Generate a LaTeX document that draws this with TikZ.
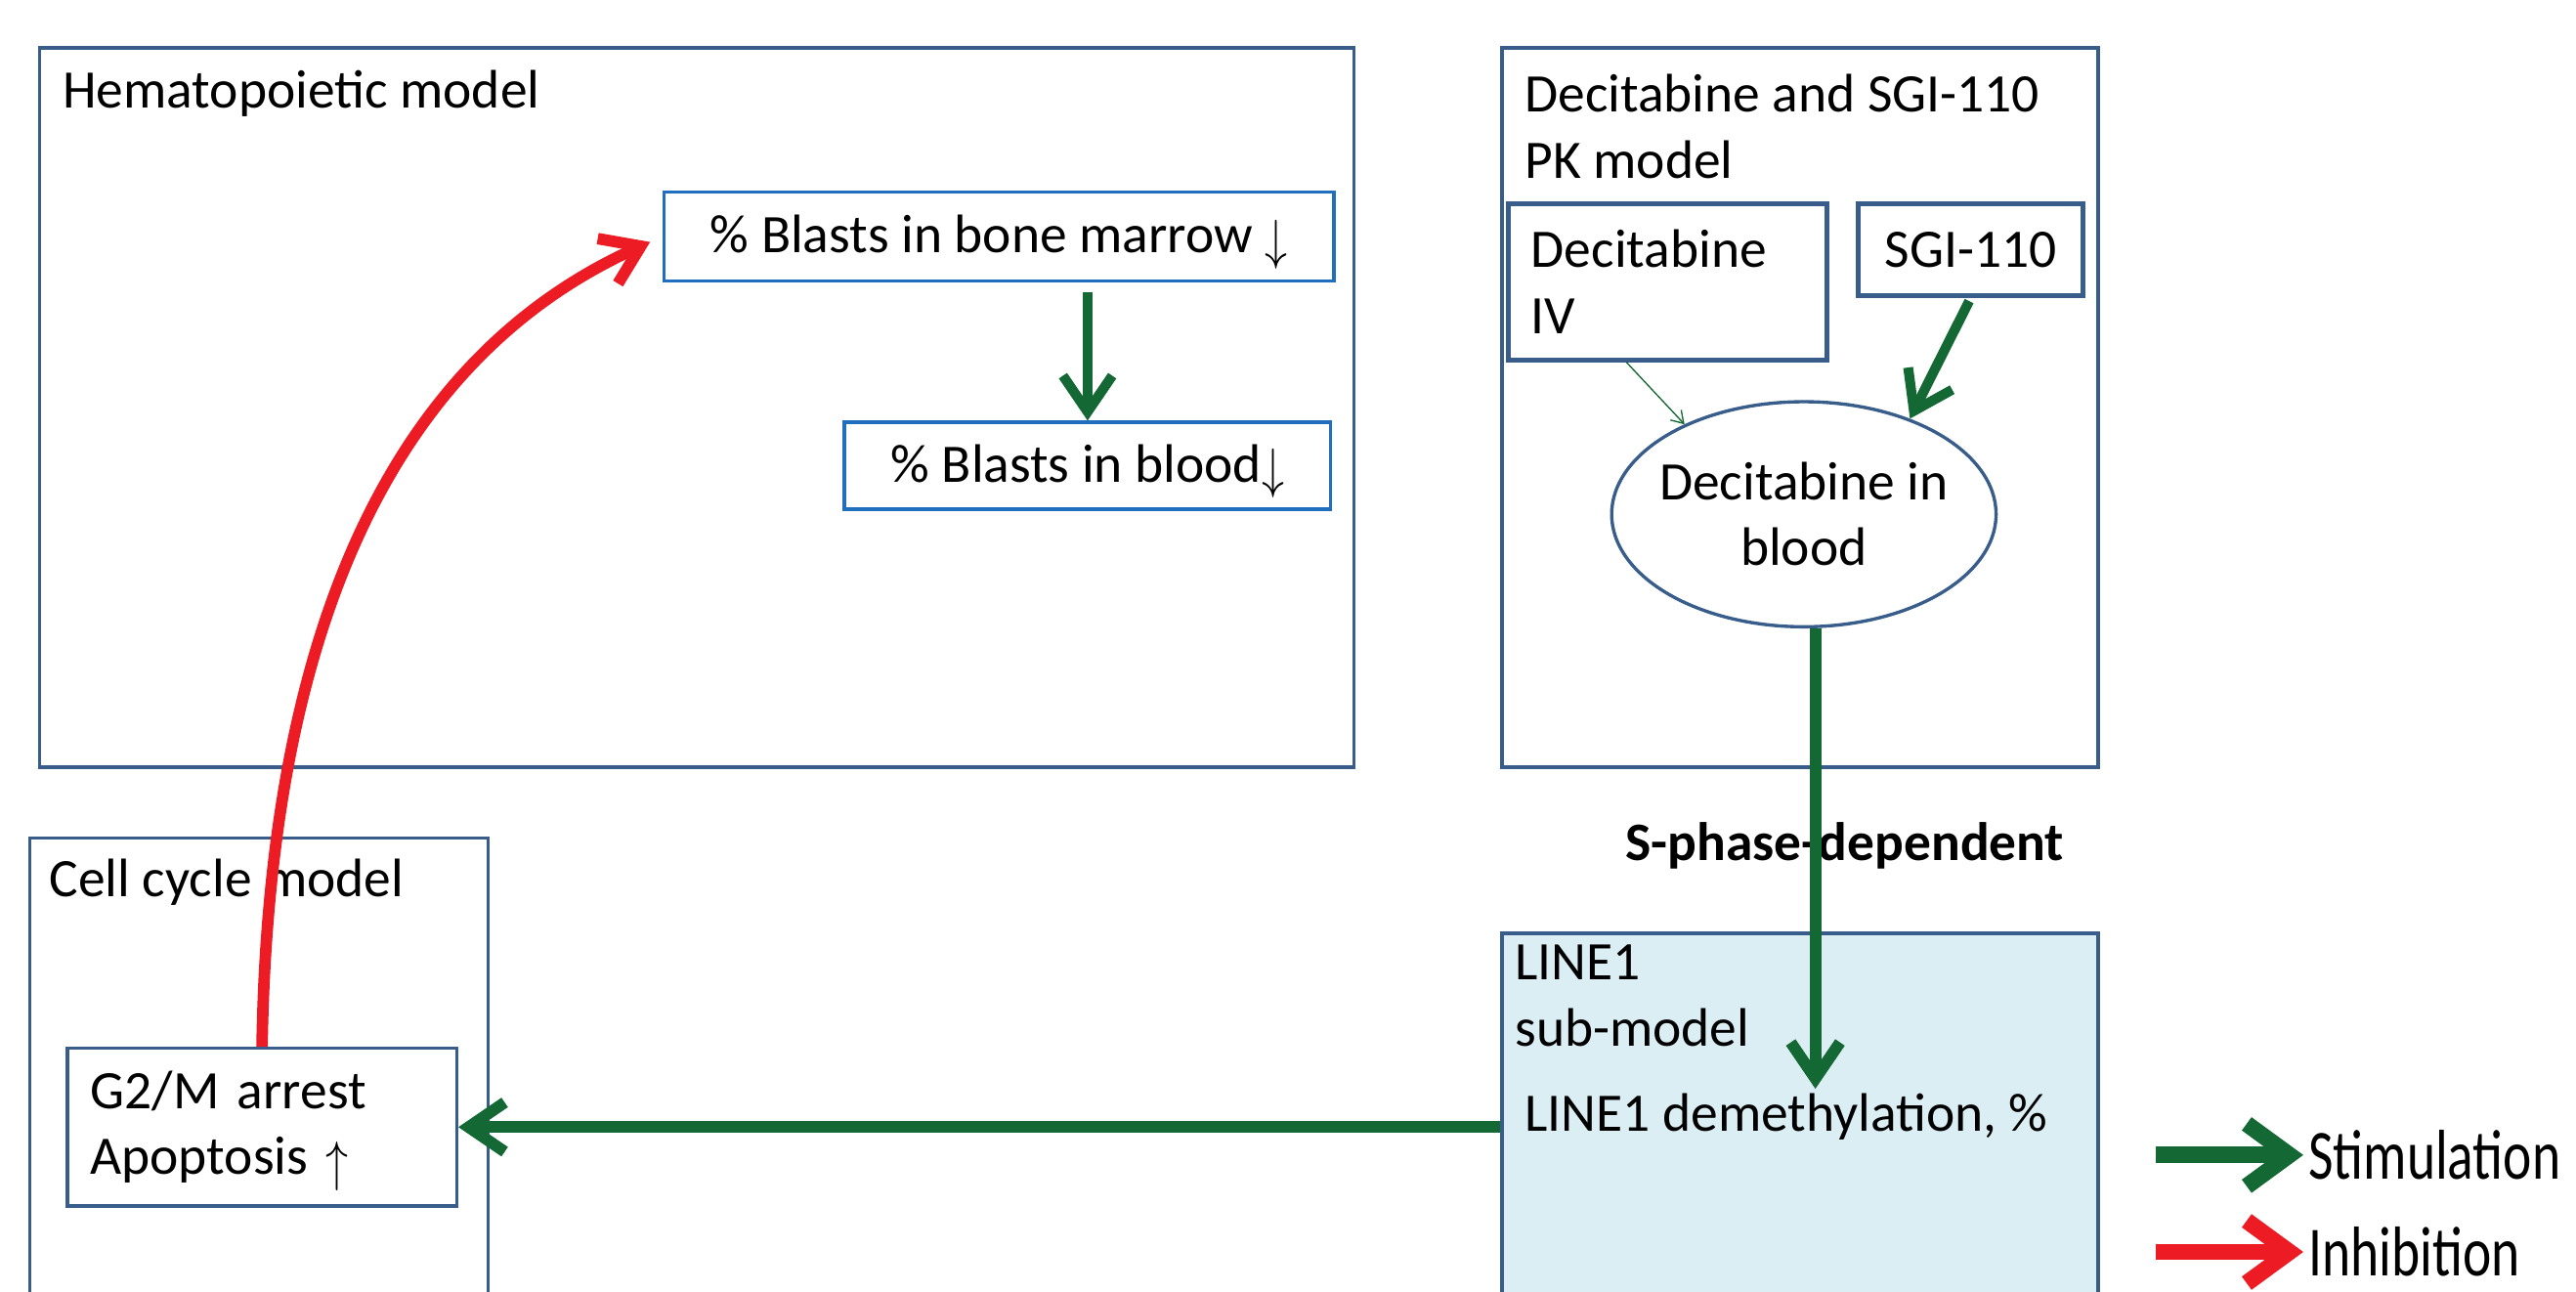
\documentclass[tikz,border=0pt]{standalone}
\usepackage{fontspec}
\setmainfont{Carlito}
\usepackage{graphicx}
\usepackage{tikz}
\usetikzlibrary{arrows.meta}
\usetikzlibrary{shapes.geometric}
\definecolor{stimgreen}{RGB}{20,104,52}
\definecolor{inhibred}{RGB}{237,28,36}
\definecolor{boxblue}{RGB}{56,93,138}
\definecolor{varblue}{RGB}{31,111,190}
\definecolor{linefill}{RGB}{219,238,244}
\newcommand{\txtsize}{\fontsize{33}{40}\selectfont}
\newcommand{\tall}[1]{\scalebox{1}[1.3]{#1}}
\newcommand{\dnarrow}{\raisebox{-0.1em}{\smash{\scalebox{1.1}[1.35]{$\downarrow$}}}}
\newcommand{\uparrowmark}{\raisebox{-0.1em}{\smash{\scalebox{1.1}[1.35]{$\uparrow$}}}}
\tikzset{
  modelbox/.style={draw=boxblue, line width=2.2pt, anchor=north west, inner sep=0pt},
  varbox/.style={draw=varblue, line width=2pt, inner sep=4pt},
  pkbox/.style={draw=boxblue, line width=3pt, inner sep=4pt},
  labeltext/.style={inner sep=3pt, align=left},
  stim/.style={draw=stimgreen, line width=7pt, -{Straight Barb[length=22pt,width=30pt]}},
  inhib/.style={draw=inhibred, line width=7pt, -{Straight Barb[length=22pt,width=30pt]}}
}

\begin{document}
\begin{tikzpicture}[x=1pt, y=-1pt, every node/.style={font=\txtsize}]
  \useasboundingbox (0,0) rectangle (1568,786);
  \clip (0,0) rectangle (1568,786);

  % Model frames
  \node[modelbox, minimum width=800pt, minimum height=438pt] (hema) at (23,28) {};
  \node[modelbox, minimum width=363pt, minimum height=438pt] (pk) at (913,28) {};
  \node[modelbox, minimum width=279pt, minimum height=320pt] (cell) at (17,509) {};
  \node[modelbox, fill=linefill, minimum width=363pt, minimum height=260pt] (line1) at (913,567) {};

  % Frame titles
  \node[labeltext, anchor=west] (hematitle) at (35,57) {Hematopoietic model};
  \node[labeltext, anchor=west] (pktitle) at (925,77) {Decitabine and SGI-110\\PK model};
  \node[labeltext, anchor=west] (celltitle) at (27,537) {Cell cycle model};
  \node[labeltext, anchor=west] (line1title) at (919,606) {LINE1\\sub-model};

  % Hematopoietic variables
  \node[varbox, minimum width=408pt, minimum height=54pt] (marrow) at (608,144) {\% Blasts in bone marrow \dnarrow};
  \node[varbox, minimum width=296pt, minimum height=53pt] (bblood) at (662,283.5) {\% Blasts in blood\dnarrow};

  % PK compartments
  \node[pkbox, minimum width=194pt, minimum height=95pt, text width=166pt, inner xsep=14pt, align=left] (iv) at (1015,171.5) {Decitabine\\IV};
  \node[pkbox, minimum width=137pt, minimum height=56pt] (sgi) at (1199.5,152) {SGI-110};
  \node[ellipse, draw=boxblue, line width=2pt, minimum width=234pt, minimum height=137pt, inner xsep=-10pt, inner ysep=0pt, align=center] (blood) at (1098,313) {Decitabine in\\blood};

  % Cell cycle and LINE1 variables
  \node[varbox, draw=boxblue, minimum width=237pt, minimum height=96pt, text width=209pt, inner xsep=14pt, align=left] (g2m) at (159.5,686) {G2/M arrest\\Apoptosis \uparrowmark};
  \node[labeltext, anchor=west] (demeth) at (925,680) {LINE1 demethylation, \%};
  \node[labeltext, font=\txtsize\bfseries] (sphase) at (1123,515) {S-phase-dependent};

  % Connectors
  \draw[stim, line width=6pt, shorten <=6pt] (bblood.north |- marrow.south) -- (bblood.north);
  \draw[stim, line width=0.8pt, -{Straight Barb[length=7pt,width=9pt]}] ([xshift=-25pt]iv.south) -- (blood.143);
  \draw[stim, line width=6pt, shorten <=2pt] (sgi.south) -- (blood.42);
  \draw[stim] ([xshift=7pt]blood.south) -- ([xshift=7pt]blood.south |- demeth.north);
  \draw[stim] (line1.west |- g2m.east) -- (g2m.east);
  \draw[inhib, shorten >=8pt] (g2m.north) .. controls +(5,-316) and +(-124,56) .. (marrow.west);

  % Legend
  \node[labeltext, anchor=west] (stimlabel) at (1402,703) {\tall{Stimulation}};
  \node[labeltext, anchor=west] (inhiblabel) at (1402,762) {\tall{Inhibition}};
  \coordinate (stimfrom) at (1312,703);
  \coordinate (inhibfrom) at (1312,762);
  \draw[stim, line width=10pt, -{Straight Barb[length=26pt,width=38pt]}] (stimfrom) -- (stimlabel);
  \draw[inhib, line width=10pt, -{Straight Barb[length=26pt,width=38pt]}] (inhibfrom) -- (inhiblabel);
\end{tikzpicture}
\end{document}
